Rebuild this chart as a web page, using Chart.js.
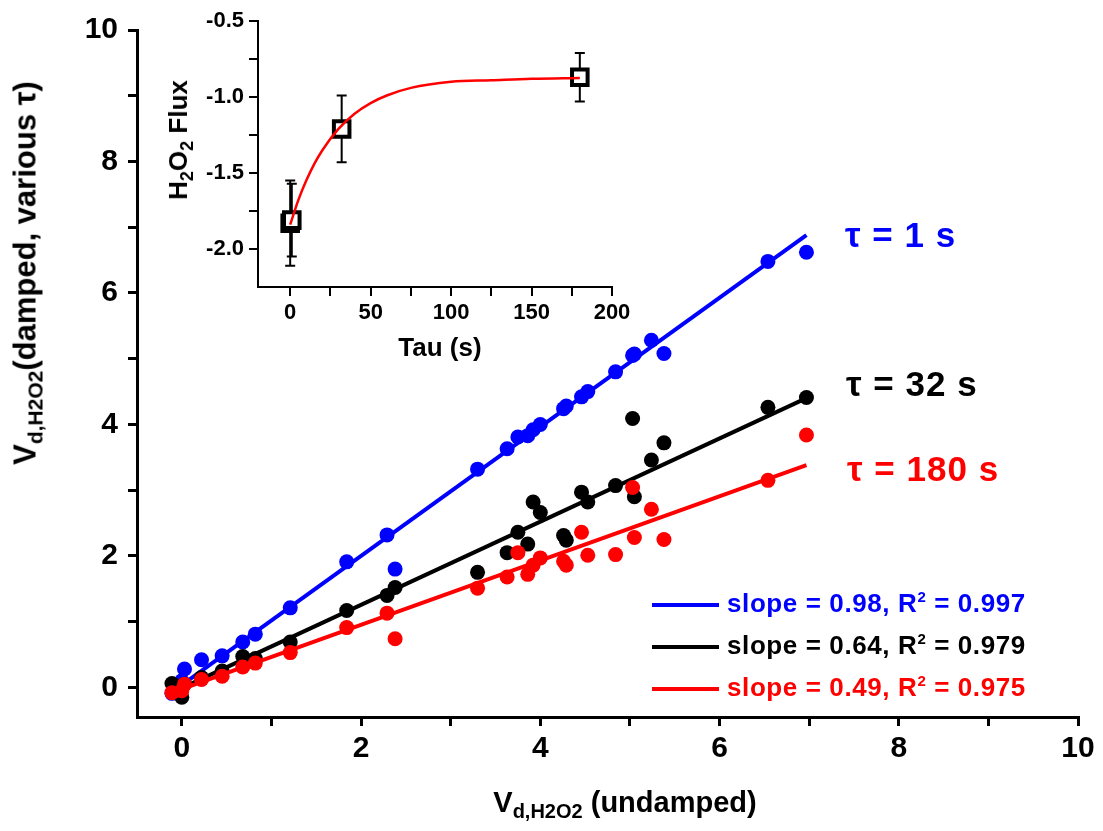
<!DOCTYPE html>
<html>
<head>
<meta charset="utf-8">
<script src="https://cdn.jsdelivr.net/npm/chart.js@4"></script>
<style>
  body { margin: 0; background: #fff; }
  #wrap { position: relative; width: 1103px; height: 831px; font-family: 'Liberation Sans', Arial, sans-serif; font-weight: bold; }
  #wrap canvas { position: absolute; }
  .lbl { position: absolute; white-space: nowrap; line-height: 1; }
  sub, sup { line-height: 0; }
  .tau { font-size: 35px; letter-spacing: 1px; transform: translateY(-50%); }
  .leg { position: absolute; left: 652px; height: 30px; white-space: nowrap; font-size: 26px; line-height: 30px; letter-spacing: 0.6px; }
  .leg span.ln { display: inline-block; width: 67px; height: 4px; vertical-align: middle; margin-right: 8px; }
</style>
</head>
<body>
<div id="wrap">
  <canvas id="myChart" width="1103" height="831" style="left:0;top:0"></canvas>
  <canvas id="inset" width="500" height="370" style="left:150px;top:0"></canvas>

  <div class="lbl" style="left:25px;top:273px;font-size:31px;transform:translate(-50%,-50%) rotate(-90deg)">V<sub style="font-size:21px">d,H2O2</sub>(damped, various &tau;)</div>
  <div class="lbl" style="left:625px;top:802px;font-size:29px;transform:translate(-50%,-50%)">V<sub style="font-size:20px">d,H2O2</sub> (undamped)</div>

  <div class="lbl" style="left:178px;top:140px;font-size:26px;transform:translate(-50%,-50%) rotate(-90deg)">H<sub style="font-size:18px">2</sub>O<sub style="font-size:18px">2</sub> Flux</div>
  <div class="lbl" style="left:440px;top:347px;font-size:26px;transform:translate(-50%,-50%)">Tau (s)</div>

  <div class="lbl tau" style="left:845px;top:234px;color:#0000ff">&tau; = 1 s</div>
  <div class="lbl tau" style="left:846px;top:383px;color:#000">&tau; = 32 s</div>
  <div class="lbl tau" style="left:847px;top:468px;color:#ff0000">&tau; = 180 s</div>

  <div class="leg" style="top:588px;color:#0000ff"><span class="ln" style="background:#0000ff"></span>slope = 0.98, R<sup style="font-size:15px">2</sup> = 0.997</div>
  <div class="leg" style="top:630px;color:#000"><span class="ln" style="background:#000"></span>slope = 0.64, R<sup style="font-size:15px">2</sup> = 0.979</div>
  <div class="leg" style="top:672px;color:#ff0000"><span class="ln" style="background:#ff0000"></span>slope = 0.49, R<sup style="font-size:15px">2</sup> = 0.975</div>
</div>

<script>
// undamped V (shared x for all three damping times)
const undamped = [-0.11, 0.00, 0.03, 0.22, 0.45, 0.68, 0.82, 1.21, 1.84, 2.29, 2.38, 3.30, 3.63, 3.75, 3.86, 3.92, 4.00, 4.26, 4.29, 4.46, 4.53, 4.84, 5.03, 5.05, 5.24, 5.38, 6.54, 6.97];
const tau1   = [-0.09, 0.10, 0.28, 0.42, 0.48, 0.69, 0.81, 1.21, 1.91, 2.32, 1.80, 3.32, 3.63, 3.81, 3.83, 3.92, 4.00, 4.24, 4.28, 4.42, 4.50, 4.80, 5.05, 5.07, 5.28, 5.08, 6.48, 6.62];
const tau32  = [0.06, -0.15, 0.05, 0.15, 0.25, 0.47, 0.44, 0.69, 1.17, 1.40, 1.52, 1.75, 2.05, 2.36, 2.18, 2.82, 2.66, 2.31, 2.24, 2.97, 2.82, 3.07, 4.09, 2.90, 3.46, 3.72, 4.26, 4.41];
const tau180 = [-0.08, -0.05, 0.05, 0.12, 0.17, 0.31, 0.37, 0.53, 0.91, 1.13, 0.74, 1.51, 1.68, 2.05, 1.72, 1.86, 1.97, 1.92, 1.86, 2.36, 2.01, 2.02, 3.04, 2.28, 2.71, 2.25, 3.15, 3.84];

// linear fit end points
const fitX      = [-0.11, 6.97];
const fitTau1   = [-0.07, 6.88];
const fitTau32  = [-0.08, 4.40];
const fitTau180 = [-0.08, 3.38];

const xTicks = [0, 1, 2, 3, 4, 5, 6, 7, 8, 9, 10];
const yTicks = [0, 1, 2, 3, 4, 5, 6, 7, 8, 9, 10];

// inset: H2O2 flux vs tau
const tauVals  = [0, 1, 32, 180];
const flux     = [-1.83, -1.81, -1.21, -0.87];
const fluxErr  = [0.28, 0.24, 0.22, 0.16];
const curveTau  = [0, 5, 10, 15, 20, 30, 40, 50, 60, 75, 100, 125, 150, 180];
const curveFlux = [-1.84, -1.68, -1.55, -1.44, -1.35, -1.21, -1.11, -1.04, -0.99, -0.94, -0.90, -0.89, -0.88, -0.875];
const insetXTicks = [0, 25, 50, 75, 100, 125, 150, 175, 200];
const insetYTicks = [-2.0, -1.75, -1.5, -1.25, -1.0, -0.75, -0.5];

const BLUE = '#0000ff', RED = '#ff0000', BLACK = '#000000';
const font = { family: "'Liberation Sans', Arial, sans-serif", weight: 'bold' };

const pts = (xs, ys) => xs.map((x, i) => ({ x: x, y: ys[i] }));

function dots(data, color, order) {
  return { type: 'scatter', data: data, backgroundColor: color, borderWidth: 0, pointRadius: 7.5, pointHoverRadius: 7.5, order: order };
}
function fit(data, color, order) {
  return { type: 'line', data: data, borderColor: color, borderWidth: 4, pointRadius: 0, fill: false, order: order };
}

function axis(min, max, ticks, labelEvery, size, width, pad, extra) {
  return Object.assign({
    type: 'linear', min: min, max: max,
    afterBuildTicks: s => { s.ticks = ticks.map(v => ({ value: v })); },
    border: { color: BLACK, width: width },
    grid: { drawOnChartArea: false, color: BLACK, lineWidth: width, tickLength: 9, tickColor: BLACK, tickWidth: width },
    ticks: {
      color: BLACK, autoSkip: false, maxRotation: 0, padding: pad,
      font: Object.assign({ size: size }, font),
      callback: v => (Math.abs(v / labelEvery - Math.round(v / labelEvery)) < 1e-6 ? labelEvery < 1 ? v.toFixed(1) : v : '')
    }
  }, extra);
}

new Chart(document.getElementById('myChart'), {
  type: 'scatter',
  data: {
    datasets: [
      dots(pts(undamped, tau1), BLUE, 6),
      fit(pts(fitX, fitTau1), BLUE, 5),
      dots(pts(undamped, tau32), BLACK, 4),
      fit(pts(fitX, fitTau32), BLACK, 3),
      dots(pts(undamped, tau180), RED, 2),
      fit(pts(fitX, fitTau180), RED, 1)
    ]
  },
  options: {
    responsive: false,
    animation: false,
    layout: { padding: { top: 30, right: 25, bottom: 0, left: 0 } },
    plugins: { legend: { display: false }, tooltip: { enabled: false } },
    scales: {
      x: axis(-0.5, 10, xTicks, 2, 30, 3, 5, { afterFit: s => { s.height = 114; } }),
      y: axis(-0.45, 10, yTicks, 2, 30, 3, 10, { afterFit: s => { s.width = 137; } })
    }
  }
});

const errorBars = {
  id: 'errorBars',
  beforeDatasetsDraw(chart) {
    const { ctx, scales } = chart;
    ctx.save();
    ctx.strokeStyle = BLACK;
    ctx.lineWidth = 2;
    tauVals.forEach((t, i) => {
      const x = scales.x.getPixelForValue(t);
      const yTop = scales.y.getPixelForValue(flux[i] + fluxErr[i]);
      const yBot = scales.y.getPixelForValue(flux[i] - fluxErr[i]);
      ctx.beginPath();
      ctx.moveTo(x, yTop); ctx.lineTo(x, yBot);
      ctx.moveTo(x - 5, yTop); ctx.lineTo(x + 5, yTop);
      ctx.moveTo(x - 5, yBot); ctx.lineTo(x + 5, yBot);
      ctx.stroke();
    });
    ctx.restore();
  }
};

new Chart(document.getElementById('inset'), {
  type: 'scatter',
  data: {
    datasets: [
      { type: 'line', data: pts(curveTau, curveFlux), borderColor: RED, borderWidth: 2.5, pointRadius: 0, tension: 0.4, cubicInterpolationMode: 'monotone', order: 0 },
      { type: 'scatter', data: pts(tauVals, flux), pointStyle: 'rect', pointRadius: 11, pointHoverRadius: 11, backgroundColor: '#ffffff', borderColor: BLACK, borderWidth: 4, order: 1 }
    ]
  },
  options: {
    responsive: false,
    animation: false,
    layout: { padding: { top: 21, right: 38, bottom: 0, left: 0 } },
    plugins: { legend: { display: false }, tooltip: { enabled: false } },
    scales: {
      x: axis(-20, 200, insetXTicks, 50, 22, 2, 4, { afterFit: s => { s.height = 83; } }),
      y: axis(-2.25, -0.5, insetYTicks, 0.5, 22, 2, 5, { afterFit: s => { s.width = 108; } })
    }
  },
  plugins: [errorBars]
});
</script>
</body>
</html>
